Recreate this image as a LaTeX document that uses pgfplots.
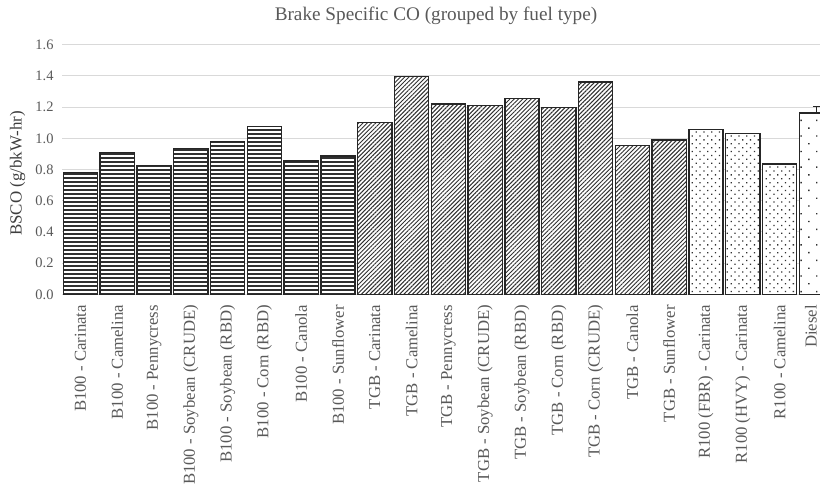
\documentclass[border=0pt]{standalone}
\usepackage{pgfplots}
\pgfplotsset{compat=1.18}
\usepackage{fontspec}
\setmainfont{Liberation Serif}
\usetikzlibrary{patterns.meta}
\definecolor{gridgray}{HTML}{D9D9D9}
\definecolor{txtgray}{HTML}{595959}
\definecolor{edge}{HTML}{262626}
\definecolor{pat}{HTML}{303030}
\begin{document}
\begin{tikzpicture}
\begin{axis}[
  at={(62bp,191.7bp)}, anchor=south west,
  scale only axis, width=758bp, height=249.6bp,
  ybar, bar width=0.93,
  xmin=-0.5, xmax=20.1, ymin=0, ymax=1.6,
  ytick={0,0.2,...,1.6},
  yticklabel style={/pgf/number format/.cd, fixed, fixed zerofill, precision=1, /tikz/.cd, font=\fontsize{14.5}{16}\selectfont, text=txtgray, xshift=-5bp},
  /pgf/number format/assume math mode=true,
  xtick={0,...,19},
  xticklabels={B100 - Carinata, B100 - Camelina, B100 - Pennycress, B100 - Soybean (CRUDE), B100 - Soybean (RBD), B100 - Corn (RBD), B100 - Canola, B100 - Sunflower, TGB - Carinata, TGB - Camelina, TGB - Pennycress, TGB - Soybean (CRUDE), TGB - Soybean (RBD), TGB - Corn (RBD), TGB - Corn (CRUDE), TGB - Canola, TGB - Sunflower, R100 (FBR) - Carinata, R100 (HVY) - Carinata, R100 - Camelina},
  extra x ticks={20}, extra x tick labels={Diesel},
  extra x tick style={xticklabel style={yshift=5.5bp}, major tick length=0pt},
  xticklabel style={rotate=90, anchor=east, inner sep=0pt, xshift=-10.5bp, font=\fontsize{16.8}{18}\selectfont, text=txtgray},
  major tick length=0pt,
  axis line style={draw=none},
  ymajorgrids, grid style={gridgray, line width=1bp},
  ylabel={BSCO (g/bkW-hr)},
  ylabel style={at={(axis description cs:0,0.5)}, anchor=center, yshift=44.5bp, xshift=-4bp, font=\fontsize{17}{18}\selectfont, text=txtgray!70!black},
  title={Brake Specific CO (grouped by fuel type)},
  title style={at={(axis description cs:0.5,1)}, anchor=base, yshift=18.7bp, xshift=-5bp, font=\fontsize{19.3}{21}\selectfont, text=txtgray},
]
\addplot[bar shift=0pt, draw=edge, line width=1.4bp, fill=white,
  postaction={pattern={Lines[angle=0, distance=4bp, line width=1.8bp]}, pattern color=pat}]
  coordinates {(0,0.782) (1,0.910) (2,0.824) (3,0.936) (4,0.978) (5,1.074) (6,0.854) (7,0.887)};
\addplot[bar shift=0pt, draw=edge, line width=1.4bp, fill=white,
  postaction={pattern={Lines[angle=45, distance=3bp, line width=1bp]}, pattern color=pat}]
  coordinates {(8,1.103) (9,1.395) (10,1.220) (11,1.209) (12,1.254) (13,1.196) (14,1.361) (15,0.953) (16,0.989)};
\addplot[bar shift=0pt, draw=edge, line width=1.4bp, fill=white,
  postaction={pattern={Dots[angle=45, distance=5.5bp, radius=0.9bp]}, pattern color=pat}]
  coordinates {(17,1.058) (18,1.029) (19,0.835)};
\addplot[bar shift=0pt, draw=edge, line width=1.4bp, fill=white,
  postaction={pattern={Dots[angle=45, distance=11bp, radius=1bp]}, pattern color=pat},
  error bars/.cd, y dir=plus, y explicit,
  error bar style={line width=1.2bp, draw=edge},
  error mark options={rotate=90, mark size=3.5bp, line width=1.2bp, draw=edge}]
  coordinates {(20,1.162) +- (0,0.04)};
\end{axis}
\pgfresetboundingbox
\path[use as bounding box] (0,0) rectangle (820bp,486bp);
\end{tikzpicture}
\end{document}
